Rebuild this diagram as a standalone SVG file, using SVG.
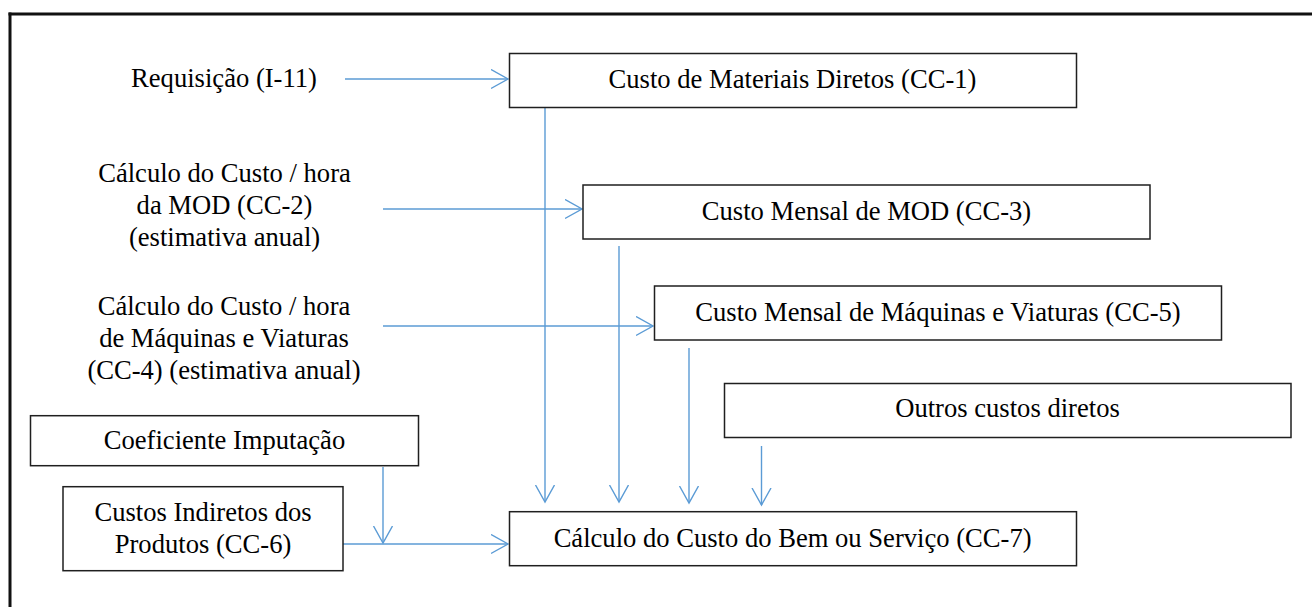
<svg xmlns="http://www.w3.org/2000/svg" width="1312" height="607" viewBox="0 0 1312 607">
<style>
.box{fill:#fff;stroke:#1f1f1f;stroke-width:1.5}
.t{font-family:"Liberation Serif","Times New Roman",serif;font-size:26.6px;fill:#000;text-anchor:middle}
.c{fill:none;stroke:#5b9bd5;stroke-width:1.4;marker-end:url(#ah)}
</style>
<defs>
<marker id="ah" markerUnits="userSpaceOnUse" markerWidth="20" markerHeight="22" refX="17" refY="10" orient="auto">
<path d="M0,0.5 L17,10 L0,19.5" fill="none" stroke="#5b9bd5" stroke-width="1.4"/>
</marker>
</defs>
<rect width="1312" height="607" fill="#fff"/>
<g id="frame">
<line x1="8.5" y1="14" x2="1312" y2="14" stroke="#111" stroke-width="3"/>
<line x1="10" y1="12.5" x2="10" y2="607" stroke="#111" stroke-width="3"/>
</g>
<g id="connectors">
<line class="c" x1="345" y1="79" x2="508" y2="79"/>
<line class="c" x1="383" y1="209" x2="582" y2="209"/>
<line class="c" x1="383" y1="326" x2="653" y2="326"/>
<line class="c" x1="545" y1="107" x2="545" y2="502"/>
<line class="c" x1="619" y1="246" x2="619" y2="502"/>
<line class="c" x1="689" y1="348" x2="689" y2="503"/>
<line class="c" x1="761.5" y1="446" x2="761.5" y2="505"/>
<line class="c" x1="383" y1="467" x2="383" y2="543"/>
<line class="c" x1="343" y1="544" x2="508" y2="544"/>
</g>
<g id="requisicao">
<text class="t" x="224" y="87">Requisição (I-11)</text>
</g>
<g id="cc1">
<rect class="box" x="509.5" y="53.5" width="567" height="54"/>
<text class="t" x="792.5" y="88">Custo de Materiais Diretos (CC-1)</text>
</g>
<g id="cc2">
<text class="t" x="224.5" y="181.5">Cálculo do Custo / hora</text>
<text class="t" x="224.5" y="213.5">da MOD (CC-2)</text>
<text class="t" x="224.5" y="245.5">(estimativa anual)</text>
</g>
<g id="cc3">
<rect class="box" x="583" y="185" width="567" height="54"/>
<text class="t" x="866.5" y="220">Custo Mensal de MOD (CC-3)</text>
</g>
<g id="cc4">
<text class="t" x="224" y="315">Cálculo do Custo / hora</text>
<text class="t" x="224" y="347">de Máquinas e Viaturas</text>
<text class="t" x="224" y="379">(CC-4) (estimativa anual)</text>
</g>
<g id="cc5">
<rect class="box" x="654.5" y="286" width="567" height="54"/>
<text class="t" x="938" y="320.7">Custo Mensal de Máquinas e Viaturas (CC-5)</text>
</g>
<g id="outros">
<rect class="box" x="724.5" y="383.5" width="566.5" height="54"/>
<text class="t" x="1007.5" y="417.3">Outros custos diretos</text>
</g>
<g id="coeficiente">
<rect class="box" x="30.5" y="415.7" width="388" height="50"/>
<text class="t" x="224.5" y="449.3">Coeficiente Imputação</text>
</g>
<g id="cc6">
<rect class="box" x="63" y="486.7" width="280" height="84"/>
<text class="t" x="203" y="521">Custos Indiretos dos</text>
<text class="t" x="203" y="552.5">Produtos (CC-6)</text>
</g>
<g id="cc7">
<rect class="box" x="509.5" y="511.7" width="567" height="54"/>
<text class="t" x="792.6" y="546.7">Cálculo do Custo do Bem ou Serviço (CC-7)</text>
</g>
</svg>
